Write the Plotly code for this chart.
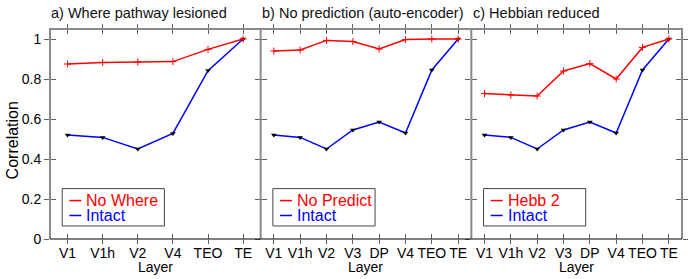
import plotly.graph_objects as go

# ---- data ----
layers_a = ["V1", "V1h", "V2", "V4", "TEO", "TE"]
layers_bc = ["V1", "V1h", "V2", "V3", "DP", "V4", "TEO", "TE"]

no_where = [0.875, 0.883, 0.885, 0.887, 0.948, 1.0]
intact_a = [0.52, 0.508, 0.45, 0.528, 0.842, 1.0]

no_predict = [0.94, 0.945, 0.993, 0.987, 0.95, 0.997, 1.0, 1.0]
intact_bc = [0.52, 0.508, 0.45, 0.545, 0.585, 0.53, 0.845, 1.0]

hebb2 = [0.727, 0.72, 0.715, 0.84, 0.877, 0.80, 0.958, 1.0]

panel_titles = ["a) Where pathway lesioned", "b) No prediction (auto-encoder)", "c) Hebbian reduced"]
lesion_names = ["No Where", "No Predict", "Hebb 2"]
y_ticks = [0, 0.2, 0.4, 0.6, 0.8, 1.0]
y_ticktext = ["0", "0.2", "0.4", "0.6", "0.8", "1"]

panels = [
    (layers_a, no_where, intact_a),
    (layers_bc, no_predict, intact_bc),
    (layers_bc, hebb2, intact_bc),
]

FONT = "Liberation Sans, Arial, sans-serif"
RED = "#ff0000"
BLUE = "#0000ff"
GRAY = "#8a8a8a"
TICKC = "#606060"

fig = go.Figure()
domains = [[0, 1 / 3], [1 / 3, 2 / 3], [2 / 3, 1]]

layout = dict(
    width=692, height=279,
    margin=dict(l=50, r=10, t=29, b=40),
    paper_bgcolor="white", plot_bgcolor="white",
    font=dict(family=FONT, size=14, color="black"),
    showlegend=False,
)
shapes = []
annotations = []

for i, (layers, lesion, intact) in enumerate(panels):
    n = i + 1
    ov = i + 4
    xs = "x" if n == 1 else f"x{n}"
    ys = "y" if n == 1 else f"y{n}"
    fig.add_trace(go.Scatter(
        x=layers, y=intact, mode="lines+markers",
        line=dict(color=BLUE, width=1.5),
        marker=dict(symbol="triangle-down", size=5, color="black"),
        xaxis=xs, yaxis=ys, hoverinfo="skip"))
    fig.add_trace(go.Scatter(
        x=layers, y=lesion, mode="lines+markers",
        line=dict(color=RED, width=1.5),
        marker=dict(symbol="cross-thin", size=5, color=RED, line=dict(color=RED, width=1)),
        xaxis=xs, yaxis=ys, hoverinfo="skip"))
    # dummy trace on overlay axes (inside half of crossing ticks)
    fig.add_trace(go.Scatter(x=[None], y=[None], mode="markers",
                             xaxis=f"x{ov}", yaxis=f"y{ov}", hoverinfo="skip"))

    layout[f"xaxis{n}"] = dict(
        domain=domains[i], anchor=ys, type="category",
        categoryorder="array", categoryarray=layers,
        range=[-0.5, len(layers) - 0.5],
        showline=False, showgrid=False, zeroline=False,
        ticks="outside", ticklen=4, tickcolor=TICKC, tickwidth=1,
        ticklabelstandoff=-3,
        mirror="ticks", tickfont=dict(size=14), fixedrange=True)
    layout[f"yaxis{n}"] = dict(
        domain=[0, 1], anchor=xs, range=[0, 1.05],
        tickvals=y_ticks, ticktext=y_ticktext,
        showline=False, showgrid=False, zeroline=False,
        ticks="outside", ticklen=5, tickcolor=TICKC, tickwidth=1,
        showticklabels=(n == 1), tickfont=dict(size=14),
        mirror=("ticks" if n == 3 else False), fixedrange=True)
    layout[f"xaxis{ov}"] = dict(
        domain=domains[i], overlaying=xs, anchor=f"y{ov}",
        range=[-0.5, len(layers) - 0.5], tickvals=list(range(len(layers))),
        showline=False, showgrid=False, zeroline=False,
        ticks="inside", ticklen=5, tickcolor=TICKC, tickwidth=1,
        mirror="ticks", showticklabels=False, fixedrange=True)
    layout[f"yaxis{ov}"] = dict(
        domain=[0, 1], overlaying=ys, anchor=f"x{ov}", range=[0, 1.05],
        tickvals=y_ticks, showline=False, showgrid=False, zeroline=False,
        ticks="inside", ticklen=6, tickcolor=TICKC, tickwidth=1,
        mirror=("ticks" if n == 3 else False), showticklabels=False, fixedrange=True)

    dref = f"{xs} domain"
    yref = f"{ys} domain"
    # legend box
    shapes.append(dict(type="rect", xref=dref, yref=yref,
                       x0=0.058, x1=0.543, y0=0.062, y1=0.24,
                       line=dict(color="#444444", width=1), fillcolor="white", layer="above"))
    for row, (name, col, yy) in enumerate([(lesion_names[i], RED, 0.183), (("Intact"), BLUE, 0.112)]):
        shapes.append(dict(type="line", xref=dref, yref=yref,
                           x0=0.092, x1=0.149, y0=yy, y1=yy,
                           line=dict(color=col, width=1.5)))
        annotations.append(dict(xref=dref, yref=yref, x=0.163, y=yy,
                                xanchor="left", yanchor="middle", showarrow=False,
                                text=name, font=dict(size=16, color=col, family=FONT)))
    # panel title
    annotations.append(dict(xref=dref, yref="paper", x=-0.003, y=1.076,
                            xanchor="left", yanchor="middle", showarrow=False,
                            text=panel_titles[i], font=dict(size=14.5, color="#111111", family=FONT)))
    # x title
    annotations.append(dict(xref=dref, yref="paper", x=0.5, y=-0.135,
                            xanchor="center", yanchor="middle", showarrow=False,
                            text="Layer", font=dict(size=14, color="black", family=FONT)))

# y title
annotations.append(dict(xref="paper", yref="paper", x=-0.060, y=0.47,
                        xanchor="center", yanchor="middle", showarrow=False, textangle=-90,
                        text="Correlation", font=dict(size=16, color="black", family=FONT)))

# frame lines
shapes.append(dict(type="path", xref="paper", yref="paper",
                   path="M0,0 L0,1 L1,1 L1,0", line=dict(color=GRAY, width=2)))
for xv in (1 / 3, 2 / 3):
    shapes.append(dict(type="line", xref="paper", yref="paper", x0=xv, x1=xv, y0=0, y1=1,
                       line=dict(color=GRAY, width=2)))
shapes.append(dict(type="line", xref="paper", yref="paper", x0=0, x1=1, y0=0, y1=0,
                   line=dict(color="black", width=1)))

layout["shapes"] = shapes
layout["annotations"] = annotations
fig.update_layout(**layout)
fig.write_html("out.html", config={"displayModeBar": False},
               post_script="document.body.style.margin='0px';document.body.style.overflow='hidden';")
